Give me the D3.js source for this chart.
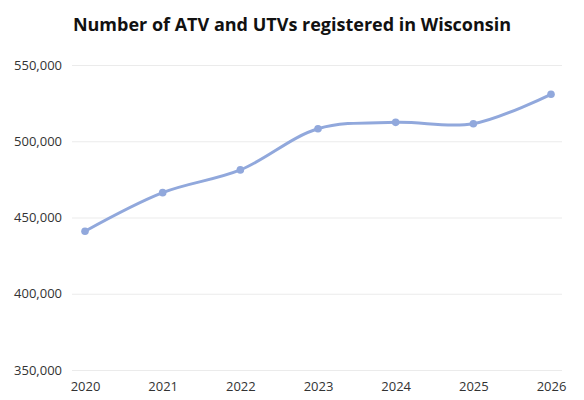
<!DOCTYPE html>
<html>
<head>
<meta charset="utf-8">
<script src="https://cdn.jsdelivr.net/npm/d3@7"></script>
<style>
  body { margin: 0; background: #fff; }
  svg { display: block; }
</style>
</head>
<body>
<div id="chart"></div>
<script>
// Datos
const years = ['2020', '2021', '2022', '2023', '2024', '2025', '2026'];
const registrations = [441000, 466300, 481200, 508200, 512400, 511500, 530800];
const yTicks = [350000, 400000, 450000, 500000, 550000];

const width = 584;
const height = 400;
const margin = { top: 65, right: 22, bottom: 30, left: 72 };

const svg = d3.select('#chart')
    .append('svg')
    .attr('width', width)
    .attr('height', height);

// Título
svg.append('text')
    .attr('x', 292)
    .attr('y', 31)
    .attr('text-anchor', 'middle')
    .style('font-family', 'Open Sans, sans-serif')
    .style('font-weight', 700)
    .style('font-size', '18px')
    .style('fill', '#111')
    .text('Number of ATV and UTVs registered in Wisconsin');

// Escalas
const x = d3.scalePoint()
    .domain(years)
    .range([85, 551]);

const y = d3.scaleLinear()
    .domain([350000, 550000])
    .range([370, 65]);

// Líneas de la cuadrícula + etiquetas del eje Y
const yAxis = svg.append('g')
    .attr('transform', `translate(${margin.left}, 0)`)
    .call(d3.axisLeft(y)
        .tickValues(yTicks)
        .tickSize(-(562 - margin.left))
        .tickPadding(10)
        .tickFormat(d3.format(',')));
yAxis.select('.domain').remove();
yAxis.selectAll('line').attr('stroke', '#ebebeb');
yAxis.selectAll('text')
    .style('font-family', 'Open Sans, sans-serif')
    .style('font-size', '13px')
    .style('fill', '#333');

// Eje X
const xAxis = svg.append('g')
    .attr('transform', `translate(0, 370)`)
    .call(d3.axisBottom(x).tickSize(0).tickPadding(12));
xAxis.select('.domain').remove();
xAxis.selectAll('text')
    .style('font-family', 'Open Sans, sans-serif')
    .style('font-size', '13px')
    .style('fill', '#333');

// Línea suavizada
const line = d3.line()
    .x((d, i) => x(years[i]))
    .y(d => y(d))
    .curve(d3.curveCatmullRom.alpha(0.5));

svg.append('path')
    .datum(registrations)
    .attr('fill', 'none')
    .attr('stroke', '#91a8dc')
    .attr('stroke-width', 3)
    .attr('stroke-linecap', 'round')
    .attr('d', line);

// Puntos
svg.selectAll('.dot')
    .data(registrations)
    .enter().append('circle')
    .attr('class', 'dot')
    .attr('cx', (d, i) => x(years[i]))
    .attr('cy', d => y(d))
    .attr('r', 3.8)
    .attr('fill', '#91a8dc');
</script>
</body>
</html>
